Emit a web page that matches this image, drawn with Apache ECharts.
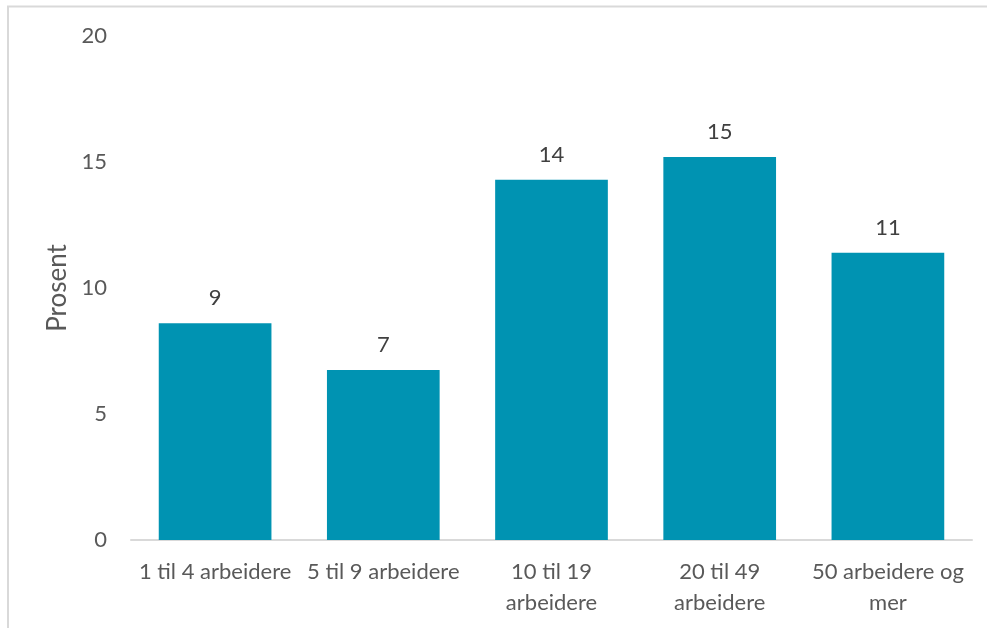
<!DOCTYPE html>
<html>
<head>
<meta charset="utf-8">
<script src="https://cdn.jsdelivr.net/npm/echarts@6/dist/echarts.min.js"></script>
<style>
html,body{margin:0;padding:0;background:#fff;}
#chart{width:987px;height:628px;}
</style>
</head>
<body>
<div id="chart"></div>
<script>
const categories = ['1 til 4 arbeidere', '5 til 9 arbeidere', '10 til 19\narbeidere', '20 til 49\narbeidere', '50 arbeidere og\nmer'];
const values = [8.6, 6.75, 14.3, 15.2, 11.4];
const yTicks = { min: 0, max: 20, interval: 5 };
const yName = 'Prosent';

const FONT = 'Lato';
const chart = echarts.init(document.getElementById('chart'), null, { renderer: 'canvas' });
chart.setOption({
  animation: false,
  backgroundColor: '#fff',
  textStyle: { fontFamily: FONT },
  graphic: [{
    type: 'rect', silent: true, z: -1,
    shape: { x: 8, y: 6.5, width: 1200, height: 900 },
    style: { fill: 'none', stroke: '#d9d9d9', lineWidth: 2 }
  }],
  grid: { left: 131, right: 15, top: 36, bottom: 88, containLabel: false },
  xAxis: {
    type: 'category',
    data: categories,
    axisLine: { show: true, lineStyle: { color: '#d9d9d9', width: 2 } },
    axisTick: { show: false },
    axisLabel: { color: '#595959', fontSize: 22, fontFamily: FONT, margin: 16, lineHeight: 31, interval: 0 }
  },
  yAxis: {
    type: 'value',
    min: yTicks.min, max: yTicks.max, interval: yTicks.interval,
    name: yName,
    nameLocation: 'middle',
    nameGap: 58,
    nameTextStyle: { color: '#595959', fontSize: 26, fontFamily: FONT },
    axisLine: { show: false },
    axisTick: { show: false },
    splitLine: { show: false },
    axisLabel: { color: '#595959', fontSize: 22, fontFamily: FONT, margin: 24 }
  },
  series: [{
    type: 'bar',
    data: values,
    barCategoryGap: '33%',
    itemStyle: { color: '#0093b2' },
    label: {
      show: true, position: 'top', distance: 14,
      color: '#404040', fontSize: 22, fontFamily: FONT,
      formatter: p => Math.round(p.value)
    }
  }]
});
</script>
</body>
</html>
